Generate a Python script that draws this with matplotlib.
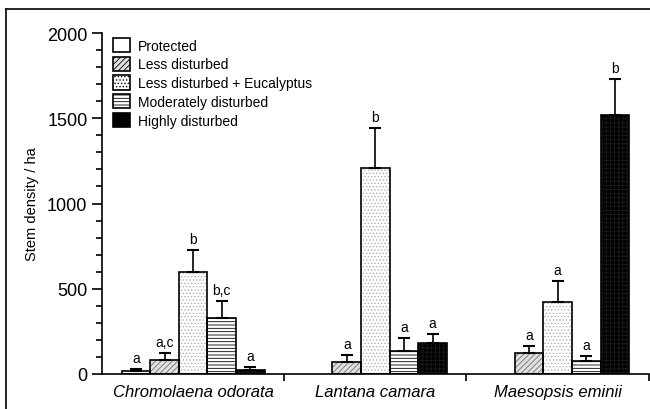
import numpy as np
import matplotlib.pyplot as plt
from matplotlib.lines import Line2D

plt.rcParams['font.family'] = ['Liberation Sans', 'DejaVu Sans']
plt.rcParams['hatch.linewidth'] = 0.6

species = ['Chromolaena odorata', 'Lantana camara', 'Maesopsis eminii']
groups = ['Protected', 'Less disturbed', 'Less disturbed + Eucalyptus',
          'Moderately disturbed', 'Highly disturbed']

# mean stem density per ha, one list per habitat (nan = no bar)
protected = [18, np.nan, np.nan]
less_dist = [82, 69, 121]
less_euc = [598, 1206, 420]
moderate = [328, 133, 74]
highly = [25, 180, 1521]

protected_se = [11, np.nan, np.nan]
less_dist_se = [41, 44, 41]
less_euc_se = [130, 237, 127]
moderate_se = [100, 76, 32]
highly_se = [16, 55, 209]

protected_lbl = ['a', '', '']
less_dist_lbl = ['a,c', 'a', 'a']
less_euc_lbl = ['b', 'b', 'a']
moderate_lbl = ['b,c', 'a', 'a']
highly_lbl = ['a', 'a', 'b']

means = [protected, less_dist, less_euc, moderate, highly]
errs = [protected_se, less_dist_se, less_euc_se, moderate_se, highly_se]
lbls = [protected_lbl, less_dist_lbl, less_euc_lbl, moderate_lbl, highly_lbl]
faces = ['white', '#e0e0e0', 'white', 'white', 'black']
hatches = [None, '//////', '.....', '-----', '++++']
hatch_cols = ['black', '#707070', '#b0b0b0', 'black', '#1a1a1a']

fig = plt.figure(figsize=(6.5, 4.1), dpi=100)
ax = fig.add_axes([0.157, 0.0854, 0.841, 0.8316])

w = 0.157
x = np.arange(len(species)) + 0.5
handles = []
for i in range(5):
    pos = x + (i - 2) * w
    # hatch layer in its own colour, then the black outline on top
    ax.bar(pos, means[i], w, color=faces[i], edgecolor=hatch_cols[i], linewidth=0,
           hatch=hatches[i], zorder=2)
    ax.bar(pos, means[i], w, color='none', edgecolor='black', linewidth=1.2, zorder=2.5)
    ax.errorbar(pos, means[i], yerr=[np.zeros(3), errs[i]], fmt='none',
                ecolor='black', elinewidth=1.2, capsize=4, capthick=1.5, zorder=3)
    for p, m, e, t in zip(pos, means[i], errs[i], lbls[i]):
        if t and not np.isnan(m):
            ax.annotate(t, (p, m + e), xytext=(0, 3), textcoords='offset points',
                        ha='center', va='bottom', fontsize=10)
    handles.append(plt.Rectangle((0, 0), 1, 1, facecolor=faces[i], edgecolor='black',
                                 hatch=hatches[i], linewidth=1.2))

ax.set_xlim(0, 3)
ax.set_ylim(0, 2000)
ax.set_xticks(x)
ax.set_xticklabels(species, style='italic', fontsize=12)
ax.tick_params(axis='x', length=0, pad=7)
ax.set_xticks([1, 2, 3], minor=True)
ax.tick_params(axis='x', which='minor', length=5, width=1.2)
ax.set_yticks(np.arange(0, 2001, 500))
ax.set_yticks(np.arange(0, 2001, 100), minor=True)
ax.tick_params(axis='y', which='major', length=7, width=1.2, labelsize=13)
ax.tick_params(axis='y', which='minor', length=4, width=1.2)
ax.set_ylabel('Stem density / ha', fontsize=10.5, labelpad=6)
ax.spines['top'].set_visible(False)
ax.spines['right'].set_visible(False)
ax.spines['left'].set_linewidth(1.2)
ax.spines['bottom'].set_linewidth(1.2)

ax.legend(handles, groups, loc='upper left', bbox_to_anchor=(0.005, 1.01), frameon=False,
          fontsize=10, handlelength=1.2, handleheight=1.2, labelspacing=0.28,
          handletextpad=0.6, borderaxespad=0.2)

# outer frame
fig.add_artist(Line2D([6 / 650, 1], [1 - 10 / 410] * 2, color='black', lw=1.2))
fig.add_artist(Line2D([6 / 650] * 2, [0, 1 - 10 / 410], color='black', lw=1.2))

fig.savefig('out.png', dpi=100)
